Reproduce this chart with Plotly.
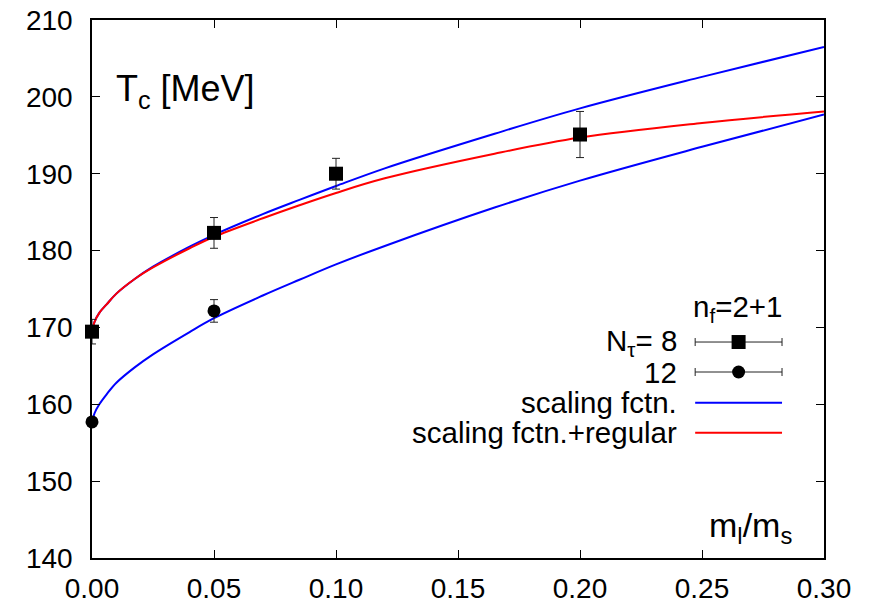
import plotly.graph_objects as go

# ---- data ----
x_nt8 = [0.0, 0.05, 0.10, 0.20]
y_nt8 = [169.45, 182.3, 190.0, 195.1]
e_nt8 = [1.6, 2.0, 2.0, 3.0]

x_nt12 = [0.0, 0.05]
y_nt12 = [157.7, 172.15]
e_nt12 = [0.6, 1.47]

x_curve = [0.0, 0.001, 0.003, 0.006, 0.01, 0.0175, 0.025, 0.04, 0.05, 0.07, 0.085, 0.10, 0.12, 0.165, 0.20, 0.25, 0.30]
y_scaling_nt8 = [169.5, 170.7, 171.9, 173.0, 174.4, 176.3, 177.9, 180.5, 182.05, 184.75, 186.6, 188.4, 190.7, 195.2, 198.5, 202.6, 206.5]
y_scaling_nt12 = [157.5, 158.8, 160.0, 161.3, 162.8, 164.8, 166.5, 169.4, 171.2, 174.15, 176.2, 178.2, 180.6, 185.6, 189.1, 193.5, 197.7]
y_scaling_reg = [169.5, 170.7, 171.9, 173.0, 174.4, 176.3, 177.8, 180.3, 181.8, 184.2, 185.9, 187.5, 189.4, 192.6, 194.7, 196.6, 198.1]

x_ticks = [0.0, 0.05, 0.10, 0.15, 0.20, 0.25, 0.30]
x_tick_labels = ["0.00", "0.05", "0.10", "0.15", "0.20", "0.25", "0.30"]
y_ticks = [140, 150, 160, 170, 180, 190, 200, 210]

# legend sample placement (in data units)
LEG_X = 0.265
LEG_DX = 0.0178
LEG_Y = [168.1, 164.2, 160.2, 156.3]
LEG_TEXT_X = 0.2407

FONT = "Liberation Sans, Arial, sans-serif"
BLUE = "#0000ff"
RED = "#ff0000"
ERRC = "#222222"

fig = go.Figure()

line_shape = dict(shape="spline", smoothing=1.0)
fig.add_trace(go.Scatter(x=x_curve, y=y_scaling_nt8, mode="lines",
                         line=dict(color=BLUE, width=2, **line_shape),
                         hoverinfo="skip", showlegend=False))
fig.add_trace(go.Scatter(x=x_curve, y=y_scaling_nt12, mode="lines",
                         line=dict(color=BLUE, width=2, **line_shape),
                         hoverinfo="skip", showlegend=False))
fig.add_trace(go.Scatter(x=x_curve, y=y_scaling_reg, mode="lines",
                         line=dict(color=RED, width=2, **line_shape),
                         hoverinfo="skip", showlegend=False))

fig.add_trace(go.Scatter(x=x_nt8, y=y_nt8, mode="markers", cliponaxis=False,
                         marker=dict(symbol="square", size=14, color="black"),
                         error_y=dict(type="data", array=e_nt8, color=ERRC, thickness=1, width=4),
                         showlegend=False))
fig.add_trace(go.Scatter(x=x_nt12, y=y_nt12, mode="markers", cliponaxis=False,
                         marker=dict(symbol="circle", size=13, color="black"),
                         error_y=dict(type="data", array=e_nt12, color=ERRC, thickness=1, width=4),
                         showlegend=False))

# custom gnuplot-style key
fig.add_trace(go.Scatter(x=[LEG_X], y=[LEG_Y[0]], mode="markers",
                         marker=dict(symbol="square", size=14, color="black"),
                         error_x=dict(type="data", array=[LEG_DX], color=ERRC, thickness=1, width=4),
                         showlegend=False, hoverinfo="skip"))
fig.add_trace(go.Scatter(x=[LEG_X], y=[LEG_Y[1]], mode="markers",
                         marker=dict(symbol="circle", size=13, color="black"),
                         error_x=dict(type="data", array=[LEG_DX], color=ERRC, thickness=1, width=4),
                         showlegend=False, hoverinfo="skip"))
fig.add_trace(go.Scatter(x=[LEG_X - LEG_DX, LEG_X + LEG_DX], y=[LEG_Y[2], LEG_Y[2]], mode="lines",
                         line=dict(color=BLUE, width=2), showlegend=False, hoverinfo="skip"))
fig.add_trace(go.Scatter(x=[LEG_X - LEG_DX, LEG_X + LEG_DX], y=[LEG_Y[3], LEG_Y[3]], mode="lines",
                         line=dict(color=RED, width=2), showlegend=False, hoverinfo="skip"))

leg_texts = ["N<sub>τ</sub>= 8", "12", "scaling fctn.", "scaling fctn.+regular"]
for t, yy in zip(leg_texts, LEG_Y):
    fig.add_annotation(x=LEG_TEXT_X, y=yy, xref="x", yref="y", text=t, showarrow=False,
                       xanchor="right", yanchor="middle", font=dict(size=29.5, color="black", family=FONT))

fig.add_annotation(x=0.2835, y=172.4, xref="x", yref="y", text="n<sub>f</sub>=2+1", showarrow=False,
                   xanchor="right", yanchor="middle", font=dict(size=29.5, color="black", family=FONT))

fig.add_annotation(x=0.0092, y=200.8, xref="x", yref="y", text="T<sub>c</sub> [MeV]", showarrow=False,
                   xanchor="left", yanchor="middle", font=dict(size=36, color="black", family=FONT))

fig.add_annotation(x=0.2875, y=144.0, xref="x", yref="y", text="m<sub>l</sub>/m<sub>s</sub>", showarrow=False,
                   xanchor="right", yanchor="middle", font=dict(size=34, color="black", family=FONT))

axis_common = dict(showgrid=False, zeroline=False, showline=True, linecolor="black", linewidth=1.5,
                   mirror="ticks", ticks="inside", ticklen=8, tickwidth=1, tickcolor="black",
                   automargin=False, tickfont=dict(size=28, color="black", family=FONT))

fig.update_xaxes(range=[0, 0.30], tickvals=x_ticks, ticktext=x_tick_labels, ticklabelstandoff=5, **axis_common)
fig.update_yaxes(range=[140, 210], tickvals=y_ticks, ticklabelstandoff=12, **axis_common)

fig.update_layout(width=870, height=603, margin=dict(l=92, r=46, t=20, b=45),
                  plot_bgcolor="white", paper_bgcolor="white", showlegend=False,
                  font=dict(family=FONT, color="black"))

fig.write_html("out.html")
